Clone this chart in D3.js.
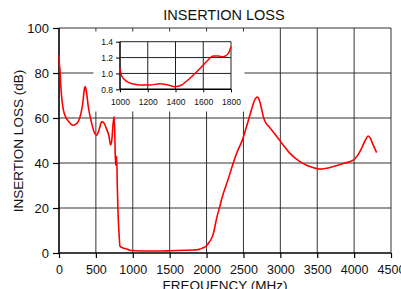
<!DOCTYPE html>
<html><head><meta charset="utf-8">
<script src="https://cdn.jsdelivr.net/npm/d3@7"></script>
<style>
html,body{margin:0;padding:0;background:#fff;}
svg{display:block;font-family:"Liberation Sans",Arial,Helvetica,sans-serif;}
</style></head>
<body>
<script>
const mainFreq = [0,5,12,25,40,60,90,130,190,240,285,320,345,355,370,397,443,480,510,545,578,605,640,677,700,715,735,748,755,762,768,775,782,790,800,815,826,860,894,940,985,1100,1300,1400,1500,1600,1700,1800,1850,1900,1950,2000,2023,2060,2091,2137,2182,2205,2300,2362,2420,2489,2540,2588,2630,2660,2692,2720,2746,2770,2800,2850,2904,3004,3130,3266,3356,3400,3537,3717,3850,3988,4050,4101,4150,4191,4220,4250,4305];
const mainLoss = [88,84,82,74,68,63.5,60.5,58.5,56.8,57.5,60.5,66,73,74,72,65,57.6,53.5,52.4,55,58.3,58,55.5,52,48,50,58,60.5,55,44,39,41,43,30,18,8,3,2.3,2.0,1.5,1.1,0.9,0.9,0.9,1.0,1.1,1.2,1.3,1.4,1.6,2.3,3.2,4.2,6,8.5,15.5,21,24,33.5,40,45.3,50.5,56,61.3,66,68.5,69.3,67.5,64,60.5,58,56,53.8,49.5,44.3,40.6,39,38.4,37.3,38.4,39.8,41.3,43.5,46.5,50,52,51,48.7,44.6];
const insetFreq = [1000,1012,1048,1096,1144,1216,1288,1348,1396,1444,1504,1564,1624,1672,1708,1744,1780,1800];
const insetLoss = [1.065,0.97,0.9,0.867,0.854,0.854,0.87,0.854,0.833,0.854,0.94,1.04,1.15,1.22,1.22,1.21,1.25,1.34];
const xTicks = [0,500,1000,1500,2000,2500,3000,3500,4000,4500];
const yTicks = [0,20,40,60,80,100];
const insetXTicks = [1000,1200,1400,1600,1800];
const insetYTicks = [0.8,1.0,1.2,1.4];
const title = "INSERTION LOSS";
const xTitle = "FREQUENCY (MHz)";
const yTitle = "INSERTION LOSS (dB)";

const W = 401, H = 289;
const svg = d3.select("body").append("svg").attr("width", W).attr("height", H);

const x = d3.scaleLinear().domain([0,4500]).range([59,391]);
const y = d3.scaleLinear().domain([0,100]).range([253,28]);

// grid
const g = svg.append("g");
g.selectAll(".vg").data(xTicks.slice(1)).join("line")
  .attr("x1", d=>x(d)).attr("x2", d=>x(d)).attr("y1", y(0)).attr("y2", y(100))
  .attr("stroke", "#333").attr("stroke-width", 1);
g.selectAll(".hg").data(yTicks.slice(1)).join("line")
  .attr("x1", x(0)).attr("x2", x(4500)).attr("y1", d=>y(d)).attr("y2", d=>y(d))
  .attr("stroke", "#333").attr("stroke-width", 1);

// axes
const xAxis = d3.axisBottom(x).tickValues(xTicks).tickSize(5).tickPadding(7).tickFormat(d3.format("d"));
const yAxis = d3.axisLeft(y).tickValues(yTicks).tickSize(6).tickPadding(4).tickFormat(d3.format("d"));
const gx = svg.append("g").attr("transform", `translate(0,${y(0)})`).call(xAxis);
const gy = svg.append("g").attr("transform", `translate(${x(0)},0)`).call(yAxis);
[gx, gy].forEach(a => {
  a.select(".domain").remove();
  a.selectAll("line").attr("stroke", "#000").attr("stroke-width", 1.2);
  a.selectAll("text").attr("fill", "#111").style("font-family", "'Liberation Sans',Arial,sans-serif");
});
gx.selectAll("text").attr("font-size", 12.5);
gy.selectAll("text").attr("font-size", 13);
svg.append("line").attr("x1", x(0)).attr("x2", x(4500)).attr("y1", y(0)).attr("y2", y(0)).attr("stroke", "#000").attr("stroke-width", 1.6);
svg.append("line").attr("x1", x(0)).attr("x2", x(0)).attr("y1", y(0)).attr("y2", y(100)).attr("stroke", "#000").attr("stroke-width", 1.6);

// main curve
const line = d3.line().x((d,i)=>x(mainFreq[i])).y((d,i)=>y(mainLoss[i])).curve(d3.curveMonotoneX);
svg.append("path").datum(mainLoss).attr("d", line).attr("fill", "none").attr("stroke", "#f00").attr("stroke-width", 1.6);

// inset background
svg.append("rect").attr("x", 93.5).attr("y", 31.5).attr("width", 151).attr("height", 80).attr("fill", "#fff");

const ix = d3.scaleLinear().domain([1000,1800]).range([120,231]);
const iy = d3.scaleLinear().domain([0.8,1.4]).range([89.3,41.7]);
const ig = svg.append("g");
ig.selectAll(".ivg").data(insetXTicks.slice(1)).join("line")
  .attr("x1", d=>ix(d)).attr("x2", d=>ix(d)).attr("y1", iy(0.8)).attr("y2", iy(1.4))
  .attr("stroke", "#222").attr("stroke-width", 1);
ig.selectAll(".ihg").data(insetYTicks.slice(1)).join("line")
  .attr("x1", ix(1000)).attr("x2", ix(1800)).attr("y1", d=>iy(d)).attr("y2", d=>iy(d))
  .attr("stroke", "#222").attr("stroke-width", 1);
const ixAxis = d3.axisBottom(ix).tickValues(insetXTicks).tickSize(3).tickPadding(7).tickFormat(d3.format("d"));
const iyAxis = d3.axisLeft(iy).tickValues(insetYTicks).tickSize(4).tickPadding(3).tickFormat(d3.format(".1f"));
const igx = svg.append("g").attr("transform", `translate(0,${iy(0.8)})`).call(ixAxis);
const igy = svg.append("g").attr("transform", `translate(${ix(1000)},0)`).call(iyAxis);
[igx, igy].forEach(a => {
  a.select(".domain").remove();
  a.selectAll("line").attr("stroke", "#000").attr("stroke-width", 1);
  a.selectAll("text").attr("fill", "#111").attr("font-size", 8.5).style("font-family", "'Liberation Sans',Arial,sans-serif");
});
svg.append("line").attr("x1", ix(1000)).attr("x2", ix(1800)).attr("y1", iy(0.8)).attr("y2", iy(0.8)).attr("stroke", "#000").attr("stroke-width", 1.5);
svg.append("line").attr("x1", ix(1000)).attr("x2", ix(1000)).attr("y1", iy(0.8)).attr("y2", iy(1.4)).attr("stroke", "#000").attr("stroke-width", 1.5);
const iline = d3.line().x((d,i)=>ix(insetFreq[i])).y((d,i)=>iy(insetLoss[i])).curve(d3.curveMonotoneX);
svg.append("path").datum(insetLoss).attr("d", iline).attr("fill", "none").attr("stroke", "#f00").attr("stroke-width", 1.5);

// titles
svg.append("text").attr("x", 224).attr("y", 20).attr("text-anchor", "middle").attr("font-size", 14.5).attr("fill", "#111").text(title);
svg.append("text").attr("x", 225).attr("y", 290).attr("text-anchor", "middle").attr("font-size", 13.5).attr("fill", "#111").text(xTitle);
svg.append("text").attr("transform", "translate(22.5,141) rotate(-90)").attr("text-anchor", "middle").attr("font-size", 13.5).attr("fill", "#111").text(yTitle);
</script>
</body></html>
